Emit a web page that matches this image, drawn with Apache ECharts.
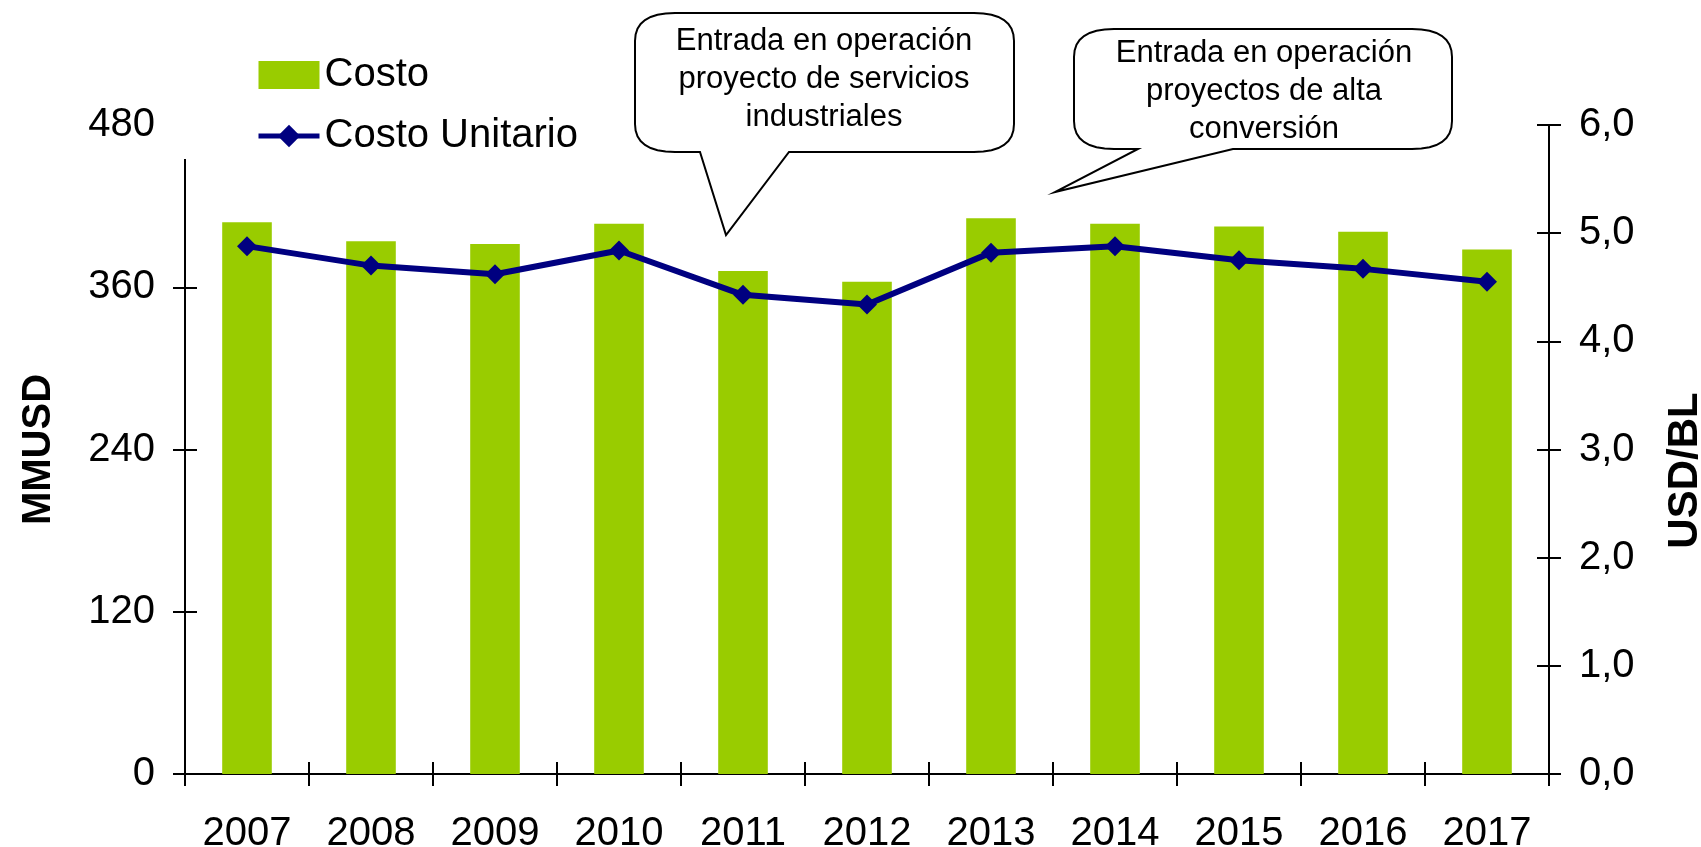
<!DOCTYPE html>
<html>
<head>
<meta charset="utf-8">
<script src="https://cdn.jsdelivr.net/npm/echarts@6/dist/echarts.min.js"></script>
<style>
  html, body { margin: 0; padding: 0; background: #fff; }
  #chart { width: 1701px; height: 847px; }
</style>
</head>
<body>
<div id="chart"></div>
<script>
  // values
  var years = ['2007', '2008', '2009', '2010', '2011', '2012', '2013', '2014', '2015', '2016', '2017'];
  var costo = [408, 394, 392, 407, 372, 364, 411, 407, 405, 401, 388];
  var costoUnitario = [4.88, 4.70, 4.62, 4.84, 4.43, 4.34, 4.82, 4.88, 4.75, 4.67, 4.55];
  var leftTicks = { min: 0, max: 480, interval: 120 };
  var rightTicks = { min: 0, max: 6, interval: 1 };

  var FONT = '"Liberation Sans", Arial, sans-serif';
  var GREEN = '#99CC00';
  var NAVY = '#000080';

  // quadratic corner sampled into points
  function corner(pts, p0, c, p1) {
    for (var i = 0; i <= 8; i++) {
      var t = i / 8, u = 1 - t;
      pts.push([u * u * p0[0] + 2 * u * t * c[0] + t * t * p1[0],
                u * u * p0[1] + 2 * u * t * c[1] + t * t * p1[1]]);
    }
  }

  // speech bubble outline: rounded box with a pointed tail off the bottom edge
  function bubble(x0, y0, x1, y1, rx, ry, baseA, baseB, tip) {
    var pts = [];
    corner(pts, [x1 - rx, y0], [x1, y0], [x1, y0 + ry]);
    corner(pts, [x1, y1 - ry], [x1, y1], [x1 - rx, y1]);
    pts.push([baseB, y1], tip, [baseA, y1]);
    corner(pts, [x0 + rx, y1], [x0, y1], [x0, y1 - ry]);
    corner(pts, [x0, y0 + ry], [x0, y0], [x0 + rx, y0]);
    return pts;
  }

  function yAxisBase(ticks, pos) {
    return {
      type: 'value',
      position: pos,
      min: ticks.min,
      max: ticks.max,
      interval: ticks.interval,
      splitLine: { show: false },
      axisLine: { show: true, lineStyle: { color: '#000', width: 2 } },
      axisTick: { show: true, length: 12, lineStyle: { color: '#000', width: 2 } }
    };
  }

  var chart = echarts.init(document.getElementById('chart'));

  var yLeft = yAxisBase(leftTicks, 'left');
  yLeft.axisLabel = { color: '#000', fontSize: 40, fontFamily: FONT, margin: 30 };
  yLeft.name = 'MMUSD';
  yLeft.nameLocation = 'middle';
  yLeft.nameRotate = 90;
  yLeft.nameGap = 126;
  yLeft.nameTextStyle = { color: '#000', fontSize: 40, fontWeight: 'bold', fontFamily: FONT };

  var yRight = yAxisBase(rightTicks, 'right');
  yRight.axisLabel = {
    color: '#000', fontSize: 40, fontFamily: FONT, margin: 30,
    formatter: function (v) { return v.toFixed(1).replace('.', ','); }
  };
  yRight.name = 'USD/BL';
  yRight.nameLocation = 'middle';
  yRight.nameRotate = 90;
  yRight.nameGap = 115;
  yRight.nameTextStyle = {
    color: '#000', fontSize: 42, fontWeight: 'bold', fontFamily: FONT,
    padding: [0, 42, 0, 0]
  };

  // twin axes carrying the inner half of the crossing tick marks
  var yLeftIn = yAxisBase(leftTicks, 'left');
  yLeftIn.axisTick.inside = true;
  yLeftIn.axisLabel = { show: false };
  var yRightIn = yAxisBase(rightTicks, 'right');
  yRightIn.axisTick.inside = true;
  yRightIn.axisLabel = { show: false };

  chart.setOption({
    animation: false,
    textStyle: { fontFamily: FONT },
    grid: {
      left: 185, right: 152, top: 125, bottom: 73,
      containLabel: false, outerBoundsMode: 'none'
    },
    legend: {
      orient: 'vertical',
      left: 256,
      top: 55,
      padding: 0,
      itemWidth: 61,
      itemHeight: 28,
      itemGap: 21,
      textStyle: { color: '#000', fontSize: 40, fontFamily: FONT },
      data: [
        { name: 'Costo', icon: 'rect' },
        { name: 'Costo Unitario', lineStyle: { width: 5, color: NAVY } }
      ]
    },
    xAxis: [
      {
        type: 'category',
        data: years,
        axisLine: { lineStyle: { color: '#000', width: 2 } },
        axisTick: { show: true, length: 12, lineStyle: { color: '#000', width: 2 } },
        axisLabel: { color: '#000', fontSize: 40, fontFamily: FONT, margin: 40 }
      },
      {
        type: 'category',
        data: years,
        position: 'bottom',
        axisLine: { lineStyle: { color: '#000', width: 2 } },
        axisTick: { show: true, inside: true, length: 12, lineStyle: { color: '#000', width: 2 } },
        axisLabel: { show: false }
      }
    ],
    yAxis: [yLeft, yRight, yLeftIn, yRightIn],
    series: [
      {
        name: 'Costo',
        type: 'bar',
        xAxisIndex: 0,
        yAxisIndex: 0,
        data: costo,
        barWidth: '40%',
        itemStyle: { color: GREEN }
      },
      {
        name: 'Costo Unitario',
        type: 'line',
        xAxisIndex: 0,
        yAxisIndex: 1,
        data: costoUnitario,
        symbol: 'diamond',
        symbolSize: 20,
        itemStyle: { color: NAVY },
        lineStyle: { color: NAVY, width: 6 },
        z: 5
      }
    ],
    graphic: [
      // the left axis line stops short of the 480 tick in the original
      { type: 'rect', z: 100, shape: { x: 170, y: 112, width: 28, height: 47 }, style: { fill: '#fff' } },
      {
        type: 'polygon', z: 100,
        shape: { points: bubble(635, 13, 1014, 152, 40, 28, 700, 789, [726, 235]) },
        style: { fill: '#fff', stroke: '#000', lineWidth: 2 }
      },
      {
        type: 'text', z: 101, x: 824, y: 22,
        style: {
          text: 'Entrada en operación\nproyecto de servicios\nindustriales',
          font: '31px ' + FONT, fill: '#000', align: 'center', lineHeight: 38
        }
      },
      {
        type: 'polygon', z: 100,
        shape: { points: bubble(1074, 29, 1452, 149, 40, 28, 1138, 1233, [1055, 192]) },
        style: { fill: '#fff', stroke: '#000', lineWidth: 2 }
      },
      {
        type: 'text', z: 101, x: 1264, y: 34,
        style: {
          text: 'Entrada en operación\nproyectos de alta\nconversión',
          font: '31px ' + FONT, fill: '#000', align: 'center', lineHeight: 38
        }
      }
    ]
  });
</script>
</body>
</html>
